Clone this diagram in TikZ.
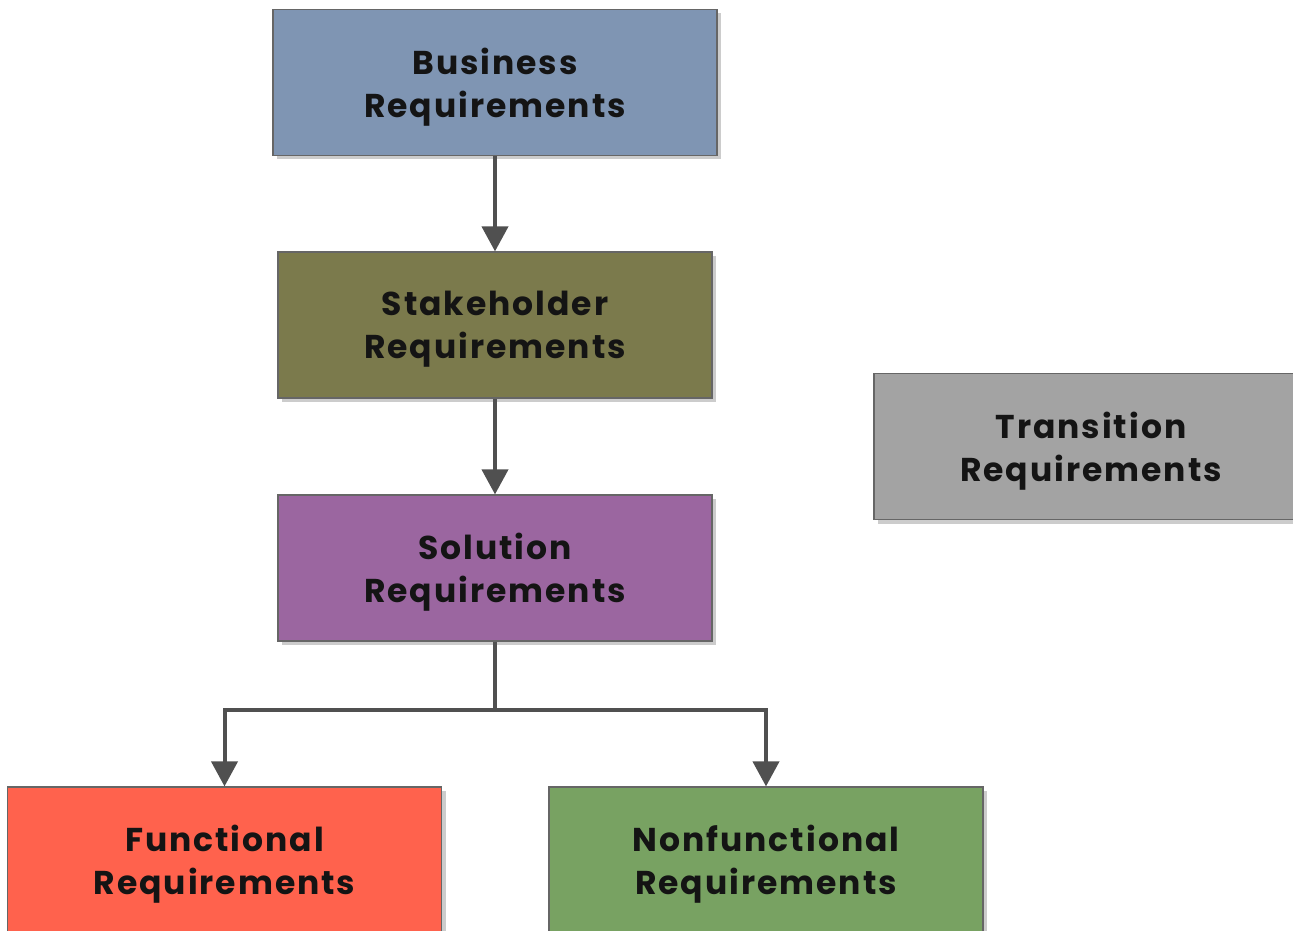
\documentclass[tikz,border=0pt]{standalone}
\usepackage{fontspec}
\setmainfont{Poppins}[UprightFont=* Bold, LetterSpace=6]
\usetikzlibrary{arrows.meta,shadows}
\definecolor{bizblue}{HTML}{7F95B3}
\definecolor{stakeolive}{HTML}{7B7A4C}
\definecolor{solpurple}{HTML}{9B66A0}
\definecolor{transgrey}{HTML}{A3A3A3}
\definecolor{funcred}{HTML}{FF624D}
\definecolor{nonfgreen}{HTML}{78A262}
\definecolor{linkgrey}{HTML}{505050}
\tikzset{
  reqbox/.style={draw=black!60, line width=0.6pt, minimum width=217pt, minimum height=73pt,
    align=center, text=black!92, font=\fontsize{16.5}{21.5}\selectfont, text depth=0pt,
    drop shadow={shadow xshift=2pt, shadow yshift=-2pt, opacity=0.2, fill=black}},
  link/.style={draw=linkgrey, line width=2pt, -{Triangle[width=13pt,length=12.5pt]}}
}
\begin{document}
\begin{tikzpicture}[x=0.5pt,y=-0.5pt]
\useasboundingbox[fill=white] (0,0) rectangle (1293,930);
\node[reqbox, fill=bizblue, minimum width=222pt] (biz) at (495,82.5) {Business\\Requirements};
\node[reqbox, fill=stakeolive] (stake) at (495,325) {Stakeholder\\Requirements};
\node[reqbox, fill=solpurple] (sol) at (495,568) {Solution\\Requirements};
\node[reqbox, fill=transgrey] (trans) at (1091,446.5) {Transition\\Requirements};
\node[reqbox, fill=funcred] (func) at (224.5,860) {Functional\\Requirements};
\node[reqbox, fill=nonfgreen] (nonf) at (766,860) {Nonfunctional\\Requirements};
\coordinate (split) at (495,710);
\draw [link] (biz) -- (stake);
\draw [link] (stake) -- (sol);
\draw [line width=2pt, draw=linkgrey] (sol.south) -- (split);
\foreach \t in {func,nonf}
	\draw [link] (split) -| (\t.north);
\end{tikzpicture}
\end{document}
